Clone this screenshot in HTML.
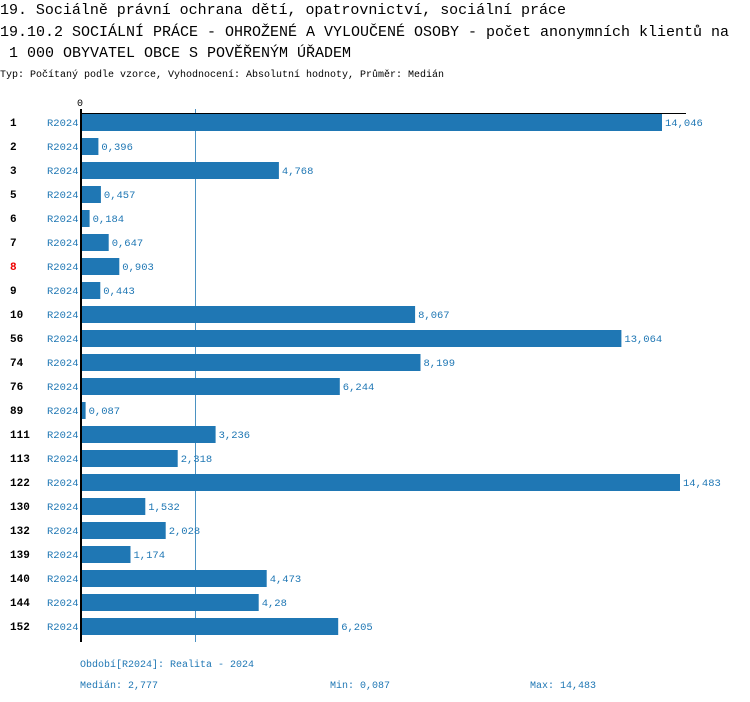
<!DOCTYPE html>
<html><head><meta charset="utf-8"><style>
body{margin:0;background:#fff}
svg{display:block}
.t{font-family:"Liberation Mono",monospace;font-size:15px;fill:#000}
.s{font-family:"Liberation Mono",monospace;font-size:10px;fill:#000}
.n{font-family:"Liberation Mono",monospace;font-size:11px;font-weight:bold;fill:#000}
.r{font-family:"Liberation Mono",monospace;font-size:10.5px;fill:#1f77b4}
.f{font-family:"Liberation Mono",monospace;font-size:10px;fill:#1f77b4}
</style></head><body>
<svg width="750" height="702" xmlns="http://www.w3.org/2000/svg">
<text class="t" x="0" y="14" textLength="566">19. Sociálně právní ochrana dětí, opatrovnictví, sociální práce</text>
<text class="t" x="0" y="36" textLength="729">19.10.2 SOCIÁLNÍ PRÁCE - OHROŽENÉ A VYLOUČENÉ OSOBY - počet anonymních klientů na</text>
<text class="t" x="9" y="57" textLength="342">1 000 OBYVATEL OBCE S POVĚŘENÝM ÚŘADEM</text>
<text class="s" x="0" y="77" textLength="444">Typ: Počítaný podle vzorce, Vyhodnocení: Absolutní hodnoty, Průměr: Medián</text>
<text class="s" x="77" y="106">0</text>
<line x1="195.5" y1="109" x2="195.5" y2="642" stroke="#1f77b4" stroke-width="1" opacity="0.8"/>
<line x1="80" y1="113.5" x2="686" y2="113.5" stroke="#000" stroke-width="1"/>
<rect x="80" y="109" width="2" height="533" fill="#000"/>
<g id="rows"></g>
<text class="f" x="80" y="667">Období[R2024]: Realita - 2024</text>
<text class="f" x="80" y="688">Medián: 2,777</text>
<text class="f" x="330" y="688">Min: 0,087</text>
<text class="f" x="530" y="688">Max: 14,483</text>
</svg>
<script>
var d=[["1",14.046],["2",0.396],["3",4.768],["5",0.457],["6",0.184],["7",0.647],["8",0.903],["9",0.443],["10",8.067],["56",13.064],["74",8.199],["76",6.244],["89",0.087],["111",3.236],["113",2.318],["122",14.483],["130",1.532],["132",2.028],["139",1.174],["140",4.473],["144",4.28],["152",6.205]];
var g=document.getElementById("rows"),h="";
d.forEach(function(r,i){var c=122+24*i,w=r[1]*41.29;
h+='<text class="n" x="10" y="'+(c+4)+'"'+(r[0]=="8"?' style="fill:#e00"':'')+'>'+r[0]+'</text>';
h+='<text class="r" x="47" y="'+(c+4)+'">R2024</text>';
h+='<rect x="82" y="'+(c-8)+'" width="'+w.toFixed(1)+'" height="17" fill="#1f77b4"/>';
h+='<text class="r" x="'+(82+w+3).toFixed(1)+'" y="'+(c+4)+'">'+String(r[1]).replace(".",",")+'</text>';});
g.innerHTML=h;
</script>
</body></html>
